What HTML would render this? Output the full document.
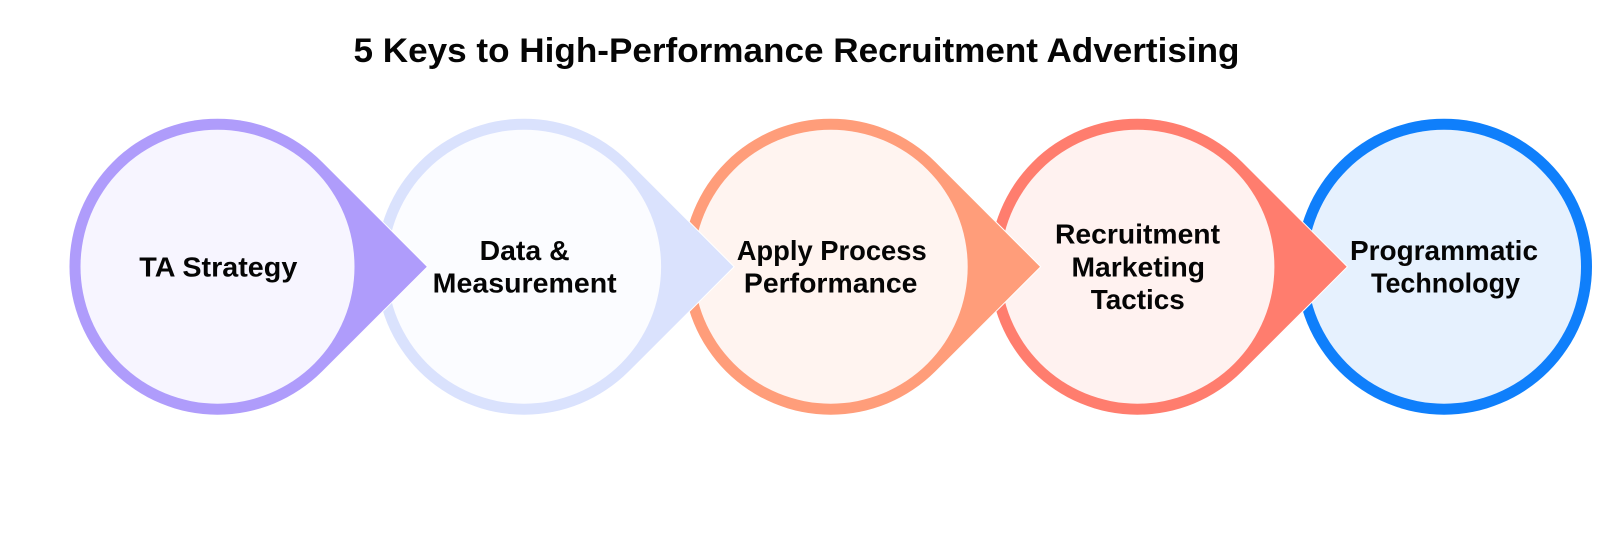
<!DOCTYPE html>
<html>
<head>
<meta charset="utf-8">
<style>
html,body{margin:0;padding:0;background:#fff;width:1600px;height:534px;overflow:hidden}
svg{display:block}
text{font-family:"Liberation Sans",sans-serif;font-weight:bold;fill:#050505}
.l{font-size:27.5px}
.t{font-size:34px}
path{paint-order:stroke;stroke:#fff;stroke-width:2;stroke-linejoin:miter}
</style>
</head>
<body>
<svg width="1600" height="534" viewBox="0 0 1600 534" xmlns="http://www.w3.org/2000/svg">
<rect width="1600" height="534" fill="#fff"/>
<text class="t" x="353.5" y="62" textLength="886" lengthAdjust="spacingAndGlyphs">5 Keys to High-Performance Recruitment Advertising</text>

<!-- circle 5 -->
<circle cx="1444" cy="266.7" r="148" fill="#0F7FFB"/>
<circle cx="1444" cy="266.7" r="137" fill="#E6F1FE"/>

<!-- circle 4 -->
<path d="M1346.7 266.7L1242 162A148 148 0 1 0 1242 371.4Z" fill="#FF7D6E"/>
<circle cx="1137.4" cy="266.7" r="137" fill="#FFF2F0"/>

<!-- circle 3 -->
<path d="M1040 266.7L935.3 162A148 148 0 1 0 935.3 371.4Z" fill="#FF9D7A"/>
<circle cx="830.7" cy="266.7" r="137" fill="#FFF4F0"/>

<!-- circle 2 -->
<path d="M733.4 266.7L628.7 162A148 148 0 1 0 628.7 371.4Z" fill="#DAE2FD"/>
<circle cx="524.1" cy="266.7" r="137" fill="#FBFCFF"/>

<!-- circle 1 -->
<path d="M426.8 266.7L322.1 162A148 148 0 1 0 322.1 371.4Z" fill="#AF9CFB"/>
<circle cx="217.5" cy="266.7" r="137" fill="#F7F5FF"/>

<text class="l" x="139.3" y="276.7" textLength="158" lengthAdjust="spacingAndGlyphs">TA Strategy</text>
<text class="l" x="479.6" y="260" textLength="90" lengthAdjust="spacingAndGlyphs">Data &amp;</text>
<text class="l" x="432.7" y="292.7" textLength="184" lengthAdjust="spacingAndGlyphs">Measurement</text>
<text class="l" x="736.7" y="260" textLength="190" lengthAdjust="spacingAndGlyphs">Apply Process</text>
<text class="l" x="743.9" y="292.7" textLength="173.5" lengthAdjust="spacingAndGlyphs">Performance</text>
<text class="l" x="1055" y="243.6" textLength="165" lengthAdjust="spacingAndGlyphs">Recruitment</text>
<text class="l" x="1071.5" y="276.3" textLength="133.5" lengthAdjust="spacingAndGlyphs">Marketing</text>
<text class="l" x="1090.8" y="309" textLength="94" lengthAdjust="spacingAndGlyphs">Tactics</text>
<text class="l" x="1350" y="260" textLength="188" lengthAdjust="spacingAndGlyphs">Programmatic</text>
<text class="l" x="1371" y="292.7" textLength="149" lengthAdjust="spacingAndGlyphs">Technology</text>
</svg>
</body>
</html>
